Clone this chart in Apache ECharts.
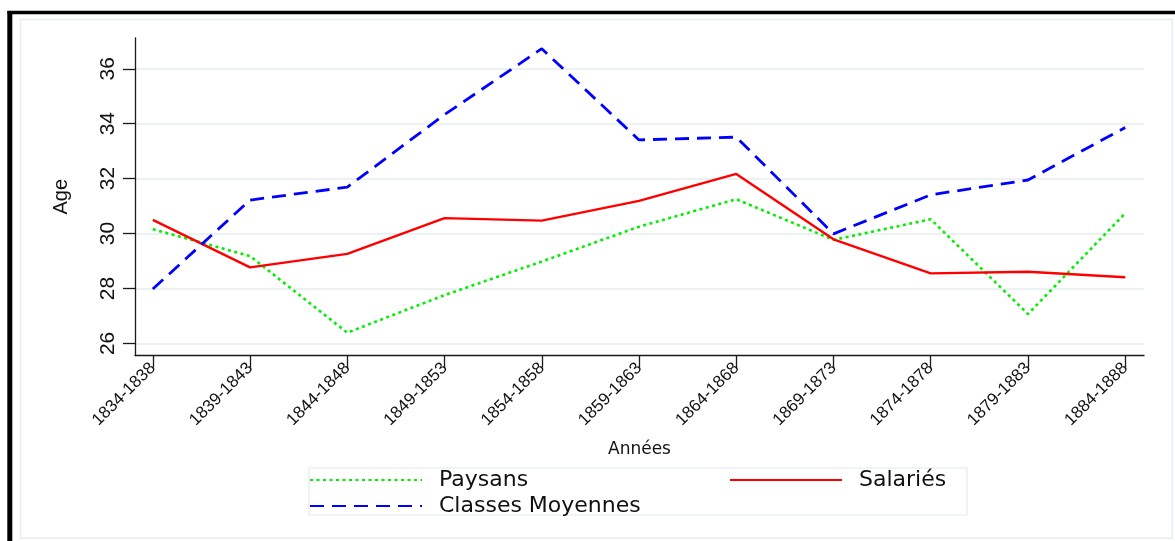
<!DOCTYPE html>
<html>
<head>
<meta charset="utf-8">
<title>Age moyen par période</title>
<script src="https://cdn.jsdelivr.net/npm/echarts@6/dist/echarts.min.js"></script>
<style>
  html, body { margin: 0; padding: 0; background: #ffffff; }
  #chart { width: 1175px; height: 541px; }
</style>
</head>
<body>
<div id="chart"></div>
<script>
// Périodes quinquennales (axe horizontal)
const periodes = ['1834-1838', '1839-1843', '1844-1848', '1849-1853', '1854-1858',
  '1859-1863', '1864-1868', '1869-1873', '1874-1878', '1879-1883', '1884-1888'];

// Âge moyen par groupe social
const paysans = [30.16, 29.18, 26.39, 27.76, 28.98, 30.25, 31.25, 29.77, 30.52, 27.07, 30.74];
const salaries = [30.50, 28.77, 29.26, 30.56, 30.47, 31.19, 32.17, 29.79, 28.55, 28.61, 28.41];
const classesMoyennes = [27.98, 31.22, 31.69, 34.33, 36.73, 33.41, 33.51, 29.99, 31.41, 31.95, 33.86];

// Graduations de l'axe des âges
const ageTicks = [26, 28, 30, 32, 34, 36];

const indices = periodes.map((_, i) => i);
const toPoints = arr => arr.map((v, i) => [i, v]);

const chart = echarts.init(document.getElementById('chart'), null, { renderer: 'canvas' });

const axisColor = '#1a1a1a';
const gridColor = '#e6eef0';

const legendText = { fontFamily: 'DejaVu Sans', fontSize: 22, lineHeight: 24, color: '#111', padding: [0, 0, 0, 12] };

chart.setOption({
  animation: false,
  backgroundColor: '#ffffff',
  grid: { left: 135, right: 31, top: 38, bottom: 185.5, containLabel: false },
  xAxis: {
    type: 'value',
    min: -0.183,
    max: 10.193,
    name: 'Années',
    nameLocation: 'middle',
    nameGap: 86,
    nameTextStyle: { fontFamily: 'DejaVu Sans', fontSize: 17, color: '#111' },
    axisLine: { show: true, onZero: false, lineStyle: { color: axisColor, width: 1.3 } },
    axisTick: { show: true, length: 12, customValues: indices, lineStyle: { color: axisColor, width: 1.3 } },
    axisLabel: {
      customValues: indices,
      rotate: 45,
      margin: 10,
      fontFamily: 'Liberation Sans',
      fontSize: 17,
      color: '#111',
      formatter: v => periodes[Math.round(v)]
    },
    splitLine: { show: false }
  },
  yAxis: {
    type: 'value',
    min: 25.56,
    max: 37.12,
    name: 'Age',
    nameLocation: 'middle',
    nameRotate: 90,
    nameGap: 64,
    nameTextStyle: { fontFamily: 'Liberation Sans', fontSize: 20, color: '#111' },
    axisLine: { show: true, onZero: false, lineStyle: { color: axisColor, width: 1.3 } },
    axisTick: { show: true, length: 12, customValues: ageTicks, lineStyle: { color: axisColor, width: 1.3 } },
    axisLabel: {
      customValues: ageTicks,
      rotate: 90,
      margin: 16,
      fontFamily: 'Liberation Sans',
      fontSize: 21,
      color: '#111'
    },
    splitLine: { show: true, lineStyle: { color: gridColor, width: 1.5 } }
  },
  legend: [
    {
      data: ['Paysans', 'Classes Moyennes'],
      orient: 'vertical',
      left: 304,
      top: 463,
      itemWidth: 112,
      itemHeight: 14,
      itemGap: 2,
      selectedMode: false,
      itemStyle: { opacity: 0 },
      textStyle: legendText
    },
    {
      data: ['Salariés'],
      orient: 'vertical',
      left: 724,
      top: 463,
      itemWidth: 112,
      itemHeight: 14,
      selectedMode: false,
      itemStyle: { opacity: 0 },
      textStyle: legendText
    }
  ],
  series: [
    {
      name: 'Paysans',
      type: 'line',
      data: toPoints(paysans),
      symbol: 'none',
      lineStyle: { color: '#00f000', width: 2.6, type: [3, 3.5] },
      itemStyle: { color: '#00f000' },
      z: 3
    },
    {
      name: 'Salariés',
      type: 'line',
      data: toPoints(salaries),
      symbol: 'none',
      lineStyle: { color: '#ff0000', width: 2.4, type: 'solid' },
      itemStyle: { color: '#ff0000' },
      z: 4
    },
    {
      name: 'Classes Moyennes',
      type: 'line',
      data: toPoints(classesMoyennes),
      symbol: 'none',
      lineStyle: { color: '#0000ff', width: 2.8, type: [14, 8] },
      itemStyle: { color: '#0000ff' },
      z: 5
    }
  ],
  graphic: [
    // cadre noir (haut et gauche)
    { type: 'line', shape: { x1: 7.5, y1: 12.5, x2: 1175, y2: 12.5 }, style: { stroke: '#000', lineWidth: 3.4 }, silent: true },
    { type: 'line', shape: { x1: 9.8, y1: 11, x2: 9.8, y2: 541 }, style: { stroke: '#000', lineWidth: 5 }, silent: true },
    // bordure claire de la zone du graphique
    { type: 'rect', shape: { x: 20.5, y: 19.5, width: 1151.8, height: 518.8 }, style: { fill: 'none', stroke: '#e6eef0', lineWidth: 1.5 }, silent: true },
    // encadré de la légende
    { type: 'rect', shape: { x: 309, y: 468, width: 658, height: 47 }, style: { fill: 'none', stroke: '#e3eaee', lineWidth: 1.2 }, silent: true, z: -1 }
  ]
});
</script>
</body>
</html>
